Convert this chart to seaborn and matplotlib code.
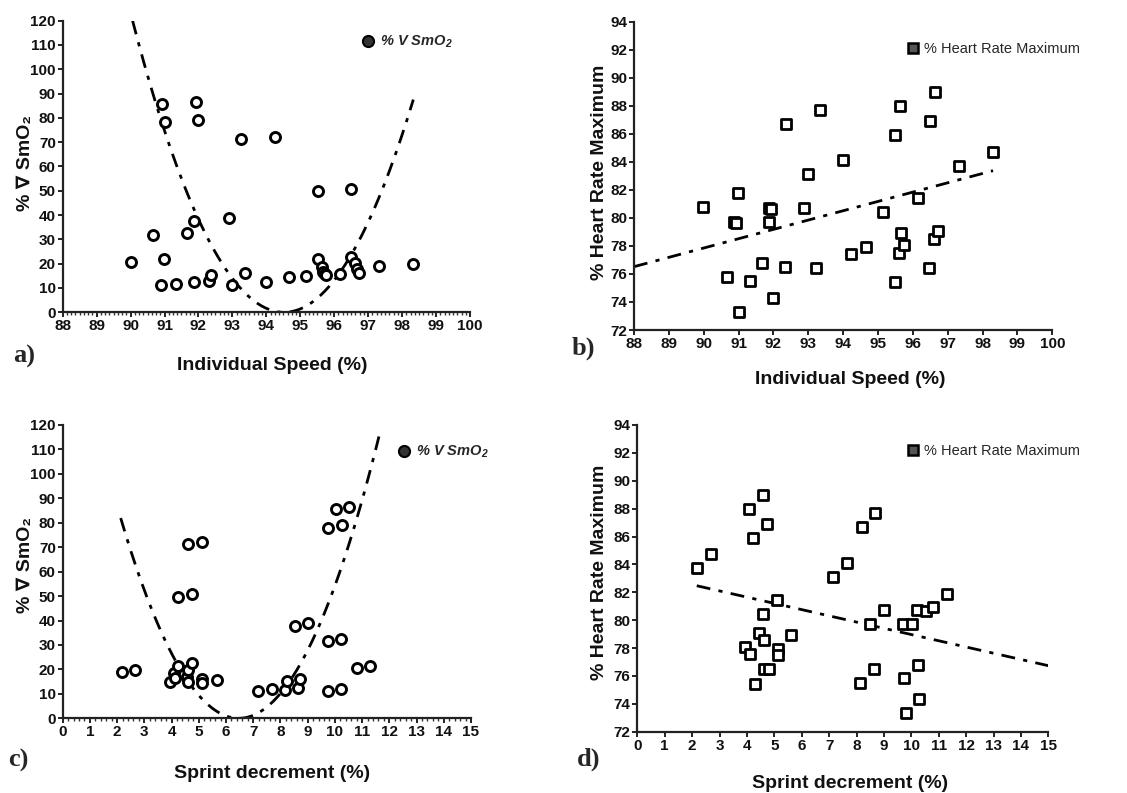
import numpy as np
import matplotlib
matplotlib.use('Agg')
import matplotlib.pyplot as plt
import seaborn as sns
from matplotlib.lines import Line2D
from matplotlib.ticker import MultipleLocator

# a) individual speed vs % V SmO2
speed_a = [90.0, 90.67, 90.92, 91.0, 90.97, 90.89, 91.33, 91.67, 91.88, 91.93, 92.0, 91.87,
           92.31, 92.36, 92.89, 93.0, 93.25, 93.37, 94.25, 93.99, 94.68, 95.17, 95.52, 95.53,
           95.63, 95.68, 95.72, 95.76, 96.17, 96.5, 96.5, 96.6, 96.66, 96.74, 97.33, 98.33]
smo2_a = [20.8, 31.8, 85.6, 78.2, 21.9, 11.2, 11.7, 32.8, 37.7, 86.6, 79.0, 12.3,
          12.9, 15.2, 39.0, 11.2, 71.2, 16.3, 72.3, 12.3, 14.7, 15.0, 49.9, 21.8,
          18.8, 16.7, 15.8, 15.2, 15.8, 50.9, 22.6, 20.2, 18.0, 16.3, 19.1, 19.9]

# b) individual speed vs % heart rate maximum
speed_b = [89.99, 90.68, 90.88, 90.92, 90.97, 91.01, 91.32, 91.66, 91.88, 91.93, 91.88, 92.0,
           92.37, 92.32, 92.89, 93.0, 93.23, 93.35, 93.99, 94.22, 94.66, 95.15, 95.5, 95.5,
           95.63, 95.65, 95.61, 95.74, 96.14, 96.49, 96.47, 96.64, 96.61, 96.73, 97.31, 98.3]
hr_b = [80.8, 75.8, 79.7, 79.65, 81.8, 73.3, 75.5, 76.8, 80.7, 80.65, 79.7, 74.3,
        86.7, 76.5, 80.7, 83.1, 76.45, 87.7, 84.1, 77.45, 77.9, 80.45, 85.9, 75.4,
        88.0, 78.9, 77.5, 78.1, 81.45, 86.9, 76.4, 89.0, 78.5, 79.1, 83.7, 84.7]

# c) sprint decrement vs % V SmO2
sprint_c = [2.17, 2.66, 4.62, 5.1, 4.25, 4.74, 5.66, 3.93, 4.09, 4.13, 4.23, 4.44,
            4.57, 4.62, 4.62, 4.74, 5.1, 5.12, 7.19, 7.68, 8.18, 8.25, 8.66, 8.7,
            8.55, 9.02, 9.75, 10.24, 9.73, 10.21, 10.8, 11.28, 9.73, 10.27, 10.03, 10.52]
smo2_c = [18.8, 19.7, 71.3, 72.3, 49.8, 50.7, 15.5, 15.0, 18.4, 16.6, 21.6, 18.0,
          16.7, 14.8, 19.7, 22.8, 16.0, 14.4, 11.1, 12.1, 11.6, 15.2, 12.6, 16.2,
          37.8, 38.8, 31.6, 32.6, 11.1, 12.1, 20.5, 21.6, 78.0, 79.1, 85.7, 86.6]

# d) sprint decrement vs % heart rate maximum
sprint_d = [2.17, 2.69, 4.09, 4.23, 4.57, 4.72, 3.93, 4.11, 4.44, 4.62, 4.57, 5.09,
            5.13, 5.13, 4.62, 4.79, 4.28, 5.61, 7.13, 7.64, 8.19, 8.69, 8.5, 9.01,
            9.71, 10.04, 10.19, 10.54, 10.78, 11.29, 8.14, 8.63, 9.73, 10.24, 10.28, 9.79]
hr_d = [83.72, 84.72, 88.0, 85.9, 89.0, 86.9, 78.07, 77.57, 79.1, 78.55, 80.46, 81.45,
        77.95, 77.48, 76.5, 76.47, 75.44, 78.93, 83.1, 84.12, 86.7, 87.7, 79.7, 80.7,
        79.72, 79.7, 80.73, 80.63, 80.92, 81.85, 75.5, 76.52, 75.85, 76.8, 74.34, 73.36]

# trend lines: quadratic (curvature, vertex) and linear (slope, intercept)
quad_a, range_a = (6.03, 94.52), (90.06, 98.33)
lin_b, range_b = (0.665, 18.0), (88.0, 98.3)
quad_c, range_c = (4.35, 6.47), (2.13, 11.66)
lin_d, range_d = (-0.447, 83.44), (2.17, 15.0)

sns.set_style('ticks')
plt.rcParams['font.family'] = ['Liberation Sans', 'DejaVu Sans']
plt.rcParams['mathtext.default'] = 'regular'

W, H = 1127, 793
fig = plt.figure(figsize=(W / 100, H / 100), dpi=100)


def box(x0, x1, y0, y1):
    return [x0 / W, 1 - y1 / H, (x1 - x0) / W, (y1 - y0) / H]


ax_a = fig.add_axes(box(62.7, 470, 20.7, 312.3))
ax_b = fig.add_axes(box(634, 1052.3, 21.7, 330))
ax_c = fig.add_axes(box(62.7, 471, 425, 718.3))
ax_d = fig.add_axes(box(637.3, 1048.3, 425, 731.7))

dash_dot = [5, 3, 1.5, 3]
circle_kw = dict(marker='o', s=52, facecolor='white', edgecolor='black', linewidth=2.1, zorder=3)
square_kw = dict(marker='s', s=48, facecolor='white', edgecolor='black', linewidth=2.0, zorder=3)

sns.scatterplot(x=speed_a, y=smo2_a, ax=ax_a, **circle_kw)
xa = np.linspace(*range_a, 200)
ax_a.plot(xa, quad_a[0] * (xa - quad_a[1]) ** 2, color='black', lw=2, dashes=dash_dot)

sns.scatterplot(x=speed_b, y=hr_b, ax=ax_b, **square_kw)
xb = np.array(range_b)
ax_b.plot(xb, lin_b[0] * xb + lin_b[1], color='black', lw=2, dashes=dash_dot)

sns.scatterplot(x=sprint_c, y=smo2_c, ax=ax_c, **circle_kw)
xc = np.linspace(*range_c, 200)
ax_c.plot(xc, quad_c[0] * (xc - quad_c[1]) ** 2, color='black', lw=2, dashes=dash_dot)

sns.scatterplot(x=sprint_d, y=hr_d, ax=ax_d, **square_kw)
xd = np.array(range_d)
ax_d.plot(xd, lin_d[0] * xd + lin_d[1], color='black', lw=2, dashes=dash_dot)

for ax, xlim, ylim, xstep, ystep, minor in [
        (ax_a, (88, 100), (0, 120), 1, 10, 0.125),
        (ax_b, (88, 100), (72, 94), 1, 2, None),
        (ax_c, (0, 15), (0, 120), 1, 10, 0.2),
        (ax_d, (0, 15), (72, 94), 1, 2, None)]:
    ax.set_xlim(*xlim)
    ax.set_ylim(*ylim)
    ax.xaxis.set_major_locator(MultipleLocator(xstep))
    ax.yaxis.set_major_locator(MultipleLocator(ystep))
    if minor:
        ax.xaxis.set_minor_locator(MultipleLocator(minor))
        ax.tick_params(axis='x', which='minor', length=2.5, width=1, color='#333333')
    ax.set_xlabel('')
    ax.set_ylabel('')
    sns.despine(ax=ax)
    for side in ['left', 'bottom']:
        ax.spines[side].set_linewidth(1.6)
        ax.spines[side].set_color('#222222')
    ax.tick_params(axis='both', which='major', length=3.5, width=1.4, color='#222222', pad=1.5,
                   labelsize=11)
    for lab in ax.get_xticklabels() + ax.get_yticklabels():
        lab.set_fontweight('bold')
        lab.set_color('#111111')

# axis titles
label_kw = dict(fontsize=14, fontweight='bold', color='#111111', ha='center', va='center')
smo2_label = '% \u2207 SmO\u2082'
fig.text(26 / W, 1 - 163 / H, smo2_label, rotation=90, **label_kw)
fig.text(599 / W, 1 - 172 / H, '% Heart Rate Maximum', rotation=90, **label_kw)
fig.text(26 / W, 1 - 565 / H, smo2_label, rotation=90, **label_kw)
fig.text(599 / W, 1 - 572 / H, '% Heart Rate Maximum', rotation=90, **label_kw)
fig.text(272 / W, 1 - 366 / H, 'Individual Speed (%)', **label_kw)
fig.text(850 / W, 1 - 380 / H, 'Individual Speed (%)', **label_kw)
fig.text(272 / W, 1 - 773 / H, 'Sprint decrement (%)', **label_kw)
fig.text(850 / W, 1 - 783 / H, 'Sprint decrement (%)', **label_kw)

# panel letters
panel_kw = dict(fontsize=19, fontweight='bold', family='Liberation Serif', ha='left', va='center')
fig.text(13 / W, 1 - 356 / H, 'a)', **panel_kw)
fig.text(572 / W, 1 - 348 / H, 'b)', **panel_kw)
fig.text(8 / W, 1 - 760 / H, 'c)', **panel_kw)
fig.text(577 / W, 1 - 759 / H, 'd)', **panel_kw)

# legends
circ_h = Line2D([], [], marker='o', ls='none', markersize=8, markerfacecolor='#333333',
                markeredgecolor='black', markeredgewidth=1.5)
sq_h = Line2D([], [], marker='s', ls='none', markersize=7, markerfacecolor='#555555',
              markeredgecolor='black', markeredgewidth=1.8)
leg_kw = dict(loc='upper left', bbox_transform=fig.transFigure, frameon=False,
              handlelength=0.8, handletextpad=0.4, borderpad=0, borderaxespad=0)
ax_a.legend([circ_h], [r'% V SmO$_2$'], bbox_to_anchor=(362 / W, 1 - 34 / H),
            prop=dict(size=10.5, style='italic', weight='bold'), **leg_kw)
ax_b.legend([sq_h], ['% Heart Rate Maximum'], bbox_to_anchor=(907 / W, 1 - 42 / H),
            prop=dict(size=10.5), **leg_kw)
ax_c.legend([circ_h], [r'% V SmO$_2$'], bbox_to_anchor=(398 / W, 1 - 444 / H),
            prop=dict(size=10.5, style='italic', weight='bold'), **leg_kw)
ax_d.legend([sq_h], ['% Heart Rate Maximum'], bbox_to_anchor=(907 / W, 1 - 444 / H),
            prop=dict(size=10.5), **leg_kw)

fig.savefig('out.png', dpi=100)
plt.close(fig)
